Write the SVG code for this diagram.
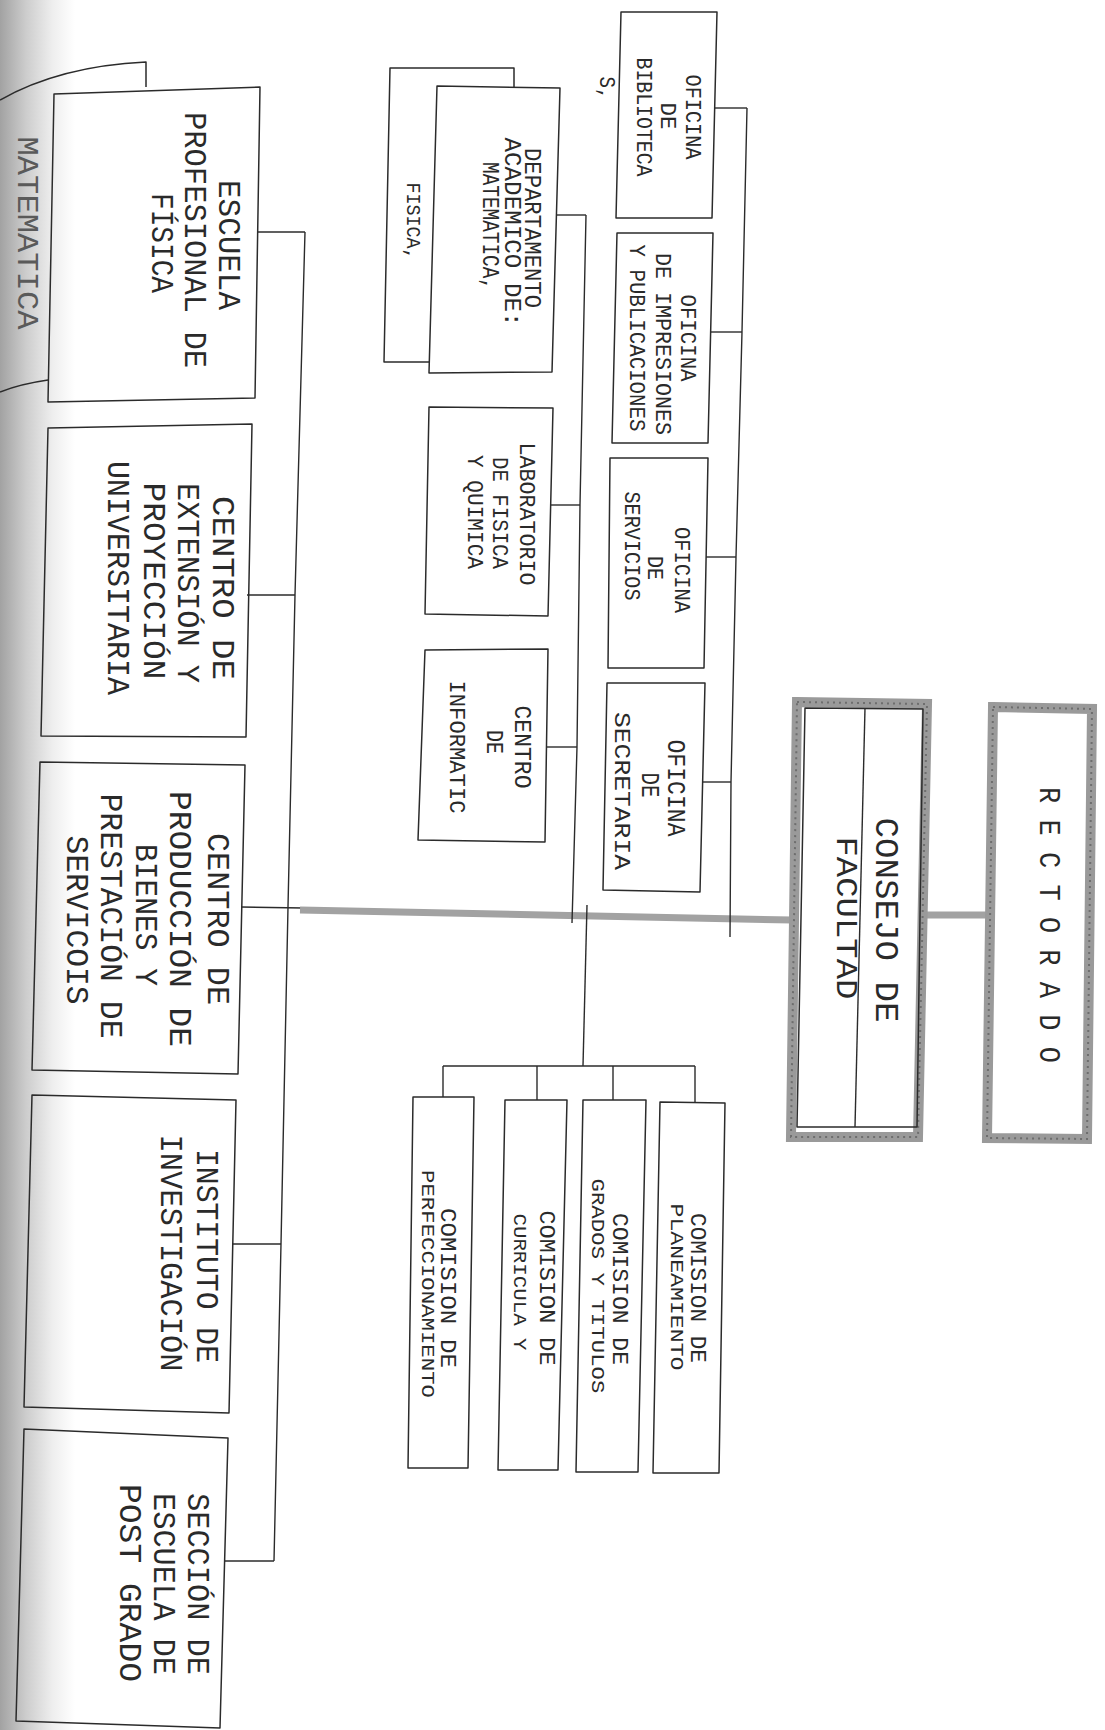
<svg xmlns="http://www.w3.org/2000/svg" width="1105" height="1730" viewBox="0 0 1105 1730">
<defs>
<linearGradient id="shade" x1="0" y1="0" x2="1" y2="0">
<stop offset="0" stop-color="#a2a2a2"/>
<stop offset="0.35" stop-color="#cdcdcd"/>
<stop offset="0.7" stop-color="#eeeeee"/>
<stop offset="1" stop-color="#ffffff"/>
</linearGradient>
<style>
.box{fill:none;stroke:#2b2b2b;stroke-width:1.5;stroke-linejoin:round}
.ln{fill:none;stroke:#2b2b2b;stroke-width:1.4;stroke-linejoin:round}
.thick{fill:none;stroke:#a2a2a2;stroke-width:7}
.gb{fill:none;stroke:#9a9a9a;stroke-width:10;stroke-linejoin:miter}
.hatch{fill:none;stroke:#4a4a4a;stroke-width:2;stroke-dasharray:2 4;opacity:0.55}
text{font-family:"Liberation Mono","DejaVu Sans Mono",monospace;fill:#2a2a2a;text-anchor:middle}
.t31{font-size:31px}
.t24{font-size:24px}
.t22{font-size:22px}
.t20{font-size:20px}
.t19{font-size:19px}
.t26{font-size:26px}
.t33{font-size:33px}
.t30{font-size:30px}
</style>
</defs>
<rect x="0" y="0" width="1105" height="1730" fill="#ffffff"/>
<rect x="0" y="0" width="75" height="1730" fill="url(#shade)"/>

<g id="connectors">
<polyline class="ln" points="305,232 295,595 288,907 281,1244 274,1561"/>
<line class="ln" x1="257" y1="232" x2="305" y2="232"/>
<line class="ln" x1="247" y1="595" x2="295" y2="595"/>
<line class="ln" x1="241" y1="907" x2="303" y2="908"/>
<line class="ln" x1="232" y1="1244" x2="281" y2="1244"/>
<line class="ln" x1="224" y1="1561" x2="274" y2="1561"/>
<line class="thick" x1="300" y1="910" x2="792" y2="920"/>
<polyline class="ln" points="586,215 580,505 577,747 572,923"/>
<line class="ln" x1="556" y1="215" x2="586" y2="215"/>
<line class="ln" x1="550" y1="505" x2="580" y2="505"/>
<line class="ln" x1="546" y1="747" x2="577" y2="747"/>
<line class="ln" x1="587" y1="905" x2="583" y2="1066"/>
<line class="ln" x1="443" y1="1066" x2="695" y2="1066"/>
<line class="ln" x1="443" y1="1066" x2="443" y2="1097"/>
<line class="ln" x1="537" y1="1066" x2="537" y2="1100"/>
<line class="ln" x1="613" y1="1066" x2="613" y2="1100"/>
<line class="ln" x1="695" y1="1066" x2="695" y2="1102"/>
<polyline class="ln" points="747,108 742,332 736,557 731,782 730,937"/>
<line class="ln" x1="715" y1="108" x2="747" y2="108"/>
<line class="ln" x1="711" y1="332" x2="742" y2="332"/>
<line class="ln" x1="706" y1="557" x2="736" y2="557"/>
<line class="ln" x1="702" y1="782" x2="731" y2="782"/>
<line class="thick" x1="922" y1="915" x2="990" y2="915"/>
</g>

<g id="matematica">
<path class="box" d="M146,87 L146,62 Q60,66 0,100"/>
<path class="box" d="M48,380 Q20,384 0,392"/>
<text class="t30" transform="rotate(90)" x="233" y="-18" textLength="193" lengthAdjust="spacingAndGlyphs" style="fill:#5a5a5a">MATEMATICA</text>
</g>

<g id="escuela">
<polygon class="box" points="54,94 260,87 255,398 48,402"/>
<text class="t31" transform="rotate(90)" x="245" y="-218.5" textLength="130" lengthAdjust="spacingAndGlyphs">ESCUELA</text>
<text class="t31" transform="rotate(90)" x="240" y="-184.5" textLength="256" lengthAdjust="spacingAndGlyphs">PROFESIONAL DE</text>
<text class="t31" transform="rotate(90)" x="243" y="-151.5" textLength="100" lengthAdjust="spacingAndGlyphs">FÍSICA</text>
</g>

<g id="centro-extension">
<polygon class="box" points="48,428 252,424 246,737 41,736"/>
<text class="t31" transform="rotate(90)" x="588" y="-212.5" textLength="184" lengthAdjust="spacingAndGlyphs">CENTRO DE</text>
<text class="t31" transform="rotate(90)" x="583" y="-177.5" textLength="200" lengthAdjust="spacingAndGlyphs">EXTENSIÓN Y</text>
<text class="t31" transform="rotate(90)" x="581" y="-143.5" textLength="197" lengthAdjust="spacingAndGlyphs">PROYECCIÓN</text>
<text class="t31" transform="rotate(90)" x="578" y="-107.5" textLength="234" lengthAdjust="spacingAndGlyphs">UNIVERSITARIA</text>
</g>

<g id="centro-produccion">
<polygon class="box" points="40,762 245,765 238,1074 32,1070"/>
<text class="t31" transform="rotate(90)" x="919" y="-207.5" textLength="172" lengthAdjust="spacingAndGlyphs">CENTRO DE</text>
<text class="t31" transform="rotate(90)" x="919" y="-169.5" textLength="256" lengthAdjust="spacingAndGlyphs">PRODUCCIÓN DE</text>
<text class="t31" transform="rotate(90)" x="915" y="-135.5" textLength="142" lengthAdjust="spacingAndGlyphs">BIENES Y</text>
<text class="t31" transform="rotate(90)" x="916" y="-100.5" textLength="245" lengthAdjust="spacingAndGlyphs">PRESTACIÓN DE</text>
<text class="t31" transform="rotate(90)" x="920" y="-66.5" textLength="169" lengthAdjust="spacingAndGlyphs">SERVICOIS</text>
</g>

<g id="instituto">
<polygon class="box" points="32,1095 236,1100 229,1413 24,1407"/>
<text class="t31" transform="rotate(90)" x="1256" y="-196.5" textLength="214" lengthAdjust="spacingAndGlyphs">INSTITUTO DE</text>
<text class="t31" transform="rotate(90)" x="1253" y="-160.5" textLength="237" lengthAdjust="spacingAndGlyphs">INVESTIGACIÓN</text>
</g>

<g id="seccion-posgrado">
<polygon class="box" points="24,1429 228,1438 220,1728 16,1721"/>
<text class="t31" transform="rotate(90)" x="1584" y="-187.5" textLength="182" lengthAdjust="spacingAndGlyphs">SECCIÓN DE</text>
<text class="t31" transform="rotate(90)" x="1584" y="-153.5" textLength="182" lengthAdjust="spacingAndGlyphs">ESCUELA DE</text>
<text class="t31" transform="rotate(90)" x="1583" y="-119.5" textLength="198" lengthAdjust="spacingAndGlyphs">POST GRADO</text>
</g>

<g id="dep-fisica">
<path class="box" d="M430,362 L384,362 L390,68 L514,68 L514,87"/>
<text class="t20" transform="rotate(90)" x="221" y="-406.5" textLength="77" lengthAdjust="spacingAndGlyphs">FISICA,</text>
</g>

<g id="dep-matematica">
<polygon class="box" points="437,86 560,88 552,372 429,373"/>
<text class="t24" transform="rotate(90)" x="228" y="-525" textLength="160" lengthAdjust="spacingAndGlyphs">DEPARTAMENTO</text>
<text class="t24" transform="rotate(90)" x="232" y="-505" textLength="189" lengthAdjust="spacingAndGlyphs">ACADEMICO DE:</text>
<text class="t24" transform="rotate(90)" x="226" y="-483" textLength="128" lengthAdjust="spacingAndGlyphs">MATEMATICA,</text>
</g>

<g id="laboratorio">
<polygon class="box" points="429,407 553,408 548,616 425,614"/>
<text class="t22" transform="rotate(90)" x="514" y="-520" textLength="143" lengthAdjust="spacingAndGlyphs">LABORATORIO</text>
<text class="t22" transform="rotate(90)" x="513" y="-493" textLength="112" lengthAdjust="spacingAndGlyphs">DE FISICA</text>
<text class="t22" transform="rotate(90)" x="512" y="-468" textLength="114" lengthAdjust="spacingAndGlyphs">Y QUIMICA</text>
</g>

<g id="informatica">
<polygon class="box" points="425,650 548,649 545,842 418,840"/>
<text class="t24" transform="rotate(90)" x="747" y="-515" textLength="83" lengthAdjust="spacingAndGlyphs">CENTRO</text>
<text class="t24" transform="rotate(90)" x="742" y="-487" textLength="24" lengthAdjust="spacingAndGlyphs">DE</text>
<text class="t22" transform="rotate(90)" x="747" y="-450" textLength="133" lengthAdjust="spacingAndGlyphs">INFORMATIC</text>
</g>

<g id="biblioteca">
<polygon class="box" points="621,12 717,12 712,218 616,218"/>
<text class="t22" transform="rotate(90)" x="117" y="-685.5" textLength="85" lengthAdjust="spacingAndGlyphs">OFICINA</text>
<text class="t22" transform="rotate(90)" x="116" y="-660.5" textLength="27" lengthAdjust="spacingAndGlyphs">DE</text>
<text class="t22" transform="rotate(90)" x="117" y="-636.5" textLength="119" lengthAdjust="spacingAndGlyphs">BIBLIOTECA</text>
<text class="t22" transform="rotate(90)" x="88" y="-600" textLength="23" lengthAdjust="spacingAndGlyphs">S,</text>
</g>

<g id="impresiones">
<polygon class="box" points="617,233 713,233 708,443 612,443"/>
<text class="t22" transform="rotate(90)" x="338" y="-680.5" textLength="87" lengthAdjust="spacingAndGlyphs">OFICINA</text>
<text class="t22" transform="rotate(90)" x="344" y="-655.5" textLength="182" lengthAdjust="spacingAndGlyphs">DE IMPRESIONES</text>
<text class="t22" transform="rotate(90)" x="338" y="-629.5" textLength="187" lengthAdjust="spacingAndGlyphs">Y PUBLICACIONES</text>
</g>

<g id="servicios">
<polygon class="box" points="610,458 708,458 704,668 608,668"/>
<text class="t22" transform="rotate(90)" x="570" y="-674.5" textLength="86" lengthAdjust="spacingAndGlyphs">OFICINA</text>
<text class="t22" transform="rotate(90)" x="568" y="-647.5" textLength="24" lengthAdjust="spacingAndGlyphs">DE</text>
<text class="t22" transform="rotate(90)" x="546" y="-624.5" textLength="109" lengthAdjust="spacingAndGlyphs">SERVICIOS</text>
</g>

<g id="secretaria">
<polygon class="box" points="607,683 705,683 700,892 603,890"/>
<text class="t26" transform="rotate(90)" x="788" y="-668" textLength="97" lengthAdjust="spacingAndGlyphs">OFICINA</text>
<text class="t26" transform="rotate(90)" x="785" y="-642" textLength="25" lengthAdjust="spacingAndGlyphs">DE</text>
<text class="t22" transform="rotate(90)" x="791" y="-615" textLength="158" lengthAdjust="spacingAndGlyphs">SECRETARIA</text>
</g>

<g id="com-perfeccionamiento">
<polygon class="box" points="413,1097 474,1097 468,1468 408,1468"/>
<text class="t22" transform="rotate(90)" x="1288" y="-440.5" textLength="160" lengthAdjust="spacingAndGlyphs">COMISION DE</text>
<text class="t19" transform="rotate(90)" x="1284" y="-421.5" textLength="228" lengthAdjust="spacingAndGlyphs">PERFECCIONAMIENTO</text>
</g>

<g id="com-curricula">
<polygon class="box" points="505,1100 567,1100 558,1470 498,1470"/>
<text class="t22" transform="rotate(90)" x="1288" y="-539.5" textLength="155" lengthAdjust="spacingAndGlyphs">COMISION DE</text>
<text class="t19" transform="rotate(90)" x="1282" y="-513.5" textLength="137" lengthAdjust="spacingAndGlyphs">CURRICULA Y</text>
</g>

<g id="com-grados">
<polygon class="box" points="583,1100 646,1100 638,1472 576,1472"/>
<text class="t22" transform="rotate(90)" x="1289" y="-612.5" textLength="152" lengthAdjust="spacingAndGlyphs">COMISION DE</text>
<text class="t19" transform="rotate(90)" x="1286" y="-591.5" textLength="215" lengthAdjust="spacingAndGlyphs">GRADOS Y TITULOS</text>
</g>

<g id="com-planeamiento">
<polygon class="box" points="660,1102 725,1103 719,1473 653,1473"/>
<text class="t22" transform="rotate(90)" x="1288" y="-690.5" textLength="150" lengthAdjust="spacingAndGlyphs">COMISION DE</text>
<text class="t19" transform="rotate(90)" x="1287" y="-670.5" textLength="167" lengthAdjust="spacingAndGlyphs">PLANEAMIENTO</text>
</g>

<g id="consejo">
<polygon class="gb" points="797,702 927,704 918,1137 791,1137"/>
<polygon class="hatch" points="797,702 927,704 918,1137 791,1137"/>
<polygon class="box" points="805,708 923,709 917,1127 797,1127"/>
<line class="ln" x1="865" y1="708" x2="855" y2="1127"/>
<text class="t33" transform="rotate(90)" x="920" y="-876" textLength="205" lengthAdjust="spacingAndGlyphs">CONSEJO DE</text>
<text class="t30" transform="rotate(90)" x="918" y="-837" textLength="163" lengthAdjust="spacingAndGlyphs">FACULTAD</text>
</g>

<g id="rectorado">
<polygon class="gb" points="993,707 1092,709 1087,1139 987,1138"/>
<polygon class="hatch" points="993,707 1092,709 1087,1139 987,1138"/>
<text class="t30" transform="rotate(90)" x="925" y="-1040" textLength="276" lengthAdjust="spacingAndGlyphs">R E C T O R A D O</text>
</g>
</svg>
